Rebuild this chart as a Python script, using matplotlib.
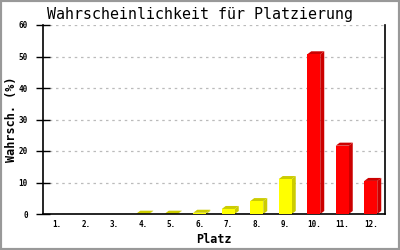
import matplotlib
matplotlib.use("Agg")
import matplotlib.pyplot as plt
from matplotlib.patches import Rectangle, Polygon

platz = ["1.", "2.", "3.", "4.", "5.", "6.", "7.", "8.", "9.", "10.", "11.", "12."]
werte = [0, 0, 0, 0.1, 0.1, 0.4, 1.6, 4.1, 11.1, 50.7, 21.7, 10.5]
farben = ["#FFFF00"] * 9 + ["#FF0000"] * 3
dunkel = ["#CCCC00"] * 9 + ["#CC0000"] * 3
yticks = [0, 10, 20, 30, 40, 50, 60]

fig = plt.figure(figsize=(4, 2.5), dpi=100)
ax = fig.add_axes([43/400, 36/250, 342/400, 189/250])
ax.set_xlim(0.5, 12.5)
ax.set_ylim(0, 60)

xs = list(range(1, len(platz) + 1))
w = 0.456
# depth offsets (4 px right, 3 px up) converted to data units via axes scale
inv = ax.transData.inverted()
p0 = inv.transform(ax.transData.transform((0, 0)))
p1 = inv.transform(ax.transData.transform((0, 0)) + [4, 3])
ddx, ddy = p1[0] - p0[0], p1[1] - p0[1]

for x, v, c, d in zip(xs, werte, farben, dunkel):
    if v <= 0:
        continue
    l, r = x - w/2, x + w/2
    top = Polygon([(l, v), (r, v), (r + ddx, v + ddy), (l + ddx, v + ddy)],
                  closed=True, facecolor=d, edgecolor='none', zorder=2, clip_on=False)
    side = Polygon([(r, 0), (r + ddx, ddy), (r + ddx, v + ddy), (r, v)],
                   closed=True, facecolor=d, edgecolor='none', zorder=2, clip_on=False)
    ax.add_patch(top)
    ax.add_patch(side)
ax.bar(xs, werte, width=w, color=farben, edgecolor='none', zorder=3)

mono = "DejaVu Sans Mono"
ax.set_yticks(yticks)
ax.set_yticklabels([str(t) for t in yticks], fontsize=5.5, family=mono, fontweight='bold')
ax.set_xticks(xs)
ax.set_xticklabels(platz, fontsize=5.5, family=mono, fontweight='bold')
ax.tick_params(axis='x', length=0, pad=4)
ax.tick_params(axis='y', direction='inout', length=10, width=1, pad=6)
ax.grid(axis='y', color='#BBBBBB', linestyle=(0, (2, 3)), linewidth=0.9, zorder=0)
ax.set_axisbelow(True)
for s in ['left', 'bottom', 'right']:
    ax.spines[s].set_color('black')
    ax.spines[s].set_linewidth(1.2)
ax.spines['top'].set_visible(False)

ax.set_xlabel("Platz", fontsize=8.5, family=mono, fontweight='bold', labelpad=3)
ax.set_ylabel("Wahrsch. (%)", fontsize=8.5, family=mono, fontweight='bold')
ax.yaxis.set_label_coords(-25/342, 0.5)
fig.text(0.5, 1 - 14/250, "Wahrscheinlichkeit für Platzierung", ha='center', va='center',
         fontsize=10.8, family=mono)

fig.add_artist(Rectangle((0, 0), 1, 1, transform=fig.transFigure, fill=False,
                         edgecolor='#999999', linewidth=3))
fig.savefig("out.png", dpi=100)
